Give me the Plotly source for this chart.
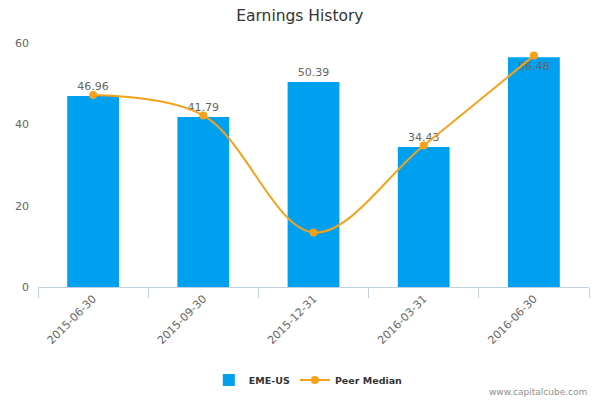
import plotly.graph_objects as go

# quarter end dates
periods = ["2015-06-30", "2015-09-30", "2015-12-31", "2016-03-31", "2016-06-30"]
eme_us = [46.96, 41.79, 50.39, 34.43, 56.48]
peer_median = [47.2, 42.2, 13.4, 34.8, 56.9]
y_ticks = [0, 20, 40, 60]

bar_color = "#00a0f0"
line_color = "#f7a11a"

# labels go above the bars, the last one sits inside (as in the original)
text_pos = ["outside"] * 4 + ["inside"]

trace_bars = go.Bar(
    x=periods,
    y=eme_us,
    name="EME-US",
    marker=dict(color=bar_color, line=dict(width=0)),
    text=[f"{v:.2f}" for v in eme_us],
    textposition=text_pos,
    insidetextanchor="end",
    textfont=dict(family="DejaVu Sans", size=11, color="#666666"),
    cliponaxis=False,
)
trace_line = go.Scatter(
    x=periods,
    y=peer_median,
    name="Peer Median",
    mode="lines+markers",
    line=dict(color=line_color, width=2, shape="spline", smoothing=1.0),
    marker=dict(color=line_color, size=8),
)

fig = go.Figure(data=[trace_bars, trace_line])
# page body has an 8px margin, so the figure is 8px smaller each way
fig.update_layout(
    width=592,
    height=392,
    margin=dict(l=30, r=11, t=35, b=113, autoexpand=False),
    paper_bgcolor="white",
    plot_bgcolor="white",
    bargap=0.53,
    font=dict(family="DejaVu Sans", size=11, color="#666666"),
    title=dict(
        text="Earnings History",
        x=0.493,
        xanchor="center",
        xref="container",
        y=0.98,
        yref="container",
        yanchor="middle",
        font=dict(family="DejaVu Sans", size=15.5, color="#333333"),
    ),
    legend=dict(
        orientation="h",
        x=0.31,
        xanchor="left",
        yref="container",
        y=0.051,
        yanchor="middle",
        font=dict(family="DejaVu Sans", size=9.5, color="#333333", weight="bold"),
        itemwidth=30,
        tracegroupgap=0,
    ),
    annotations=[
        dict(
            text="www.capitalcube.com",
            xref="paper",
            yref="paper",
            x=1.0,
            y=-0.43,
            xanchor="right",
            yanchor="middle",
            showarrow=False,
            font=dict(family="DejaVu Sans", size=9, color="#909090"),
        )
    ],
)
fig.update_xaxes(
    type="category",
    automargin=False,
    showline=True,
    linecolor="#c0d0e0",
    linewidth=1,
    ticks="outside",
    tickson="boundaries",
    ticklen=10,
    tickcolor="#c0d0e0",
    tickangle=-45,
    tickfont=dict(size=11, color="#666666"),
    showgrid=False,
)
fig.update_yaxes(
    range=[0, 60],
    automargin=False,
    tickvals=y_ticks,
    showgrid=False,
    zeroline=False,
    showline=False,
    tickfont=dict(size=11, color="#666666"),
    ticklabelstandoff=8,
)

fig.write_html("out.html")
